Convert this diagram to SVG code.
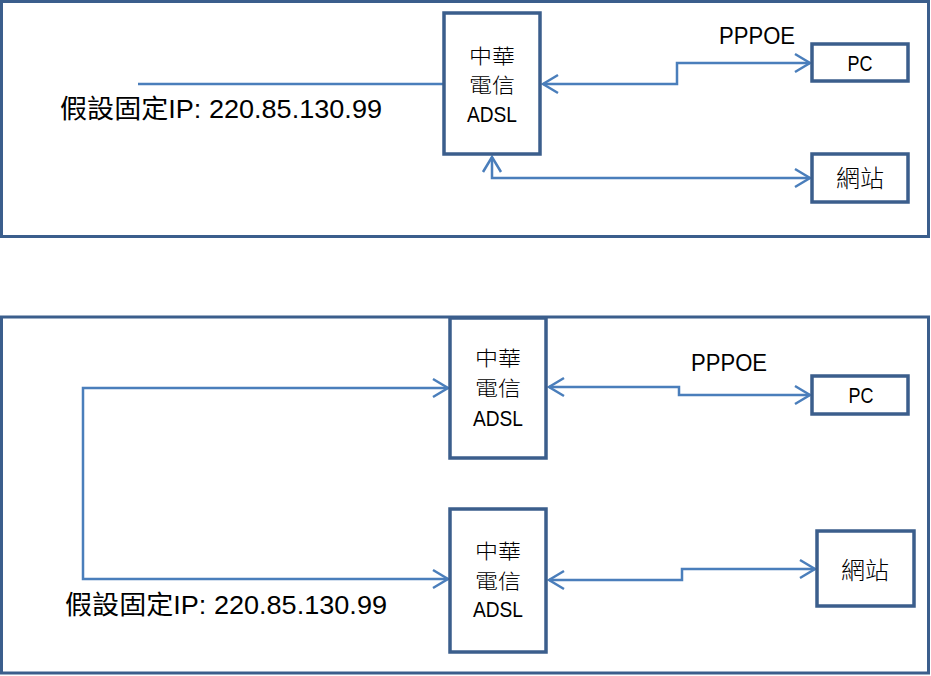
<svg xmlns="http://www.w3.org/2000/svg" width="931" height="676" viewBox="0 0 931 676">
<style>
.frame{fill:none;stroke:#3B5E8C;stroke-width:3}
.box{fill:#fff;stroke:#3B5E8C;stroke-width:3.5}
.conn{fill:none;stroke:#4A7EBB;stroke-width:2.5}
.t{font-family:"Liberation Sans","Noto Sans CJK TC",sans-serif;fill:#000}
.cjk{font-family:"Noto Sans CJK TC","Liberation Sans",sans-serif;fill:#000;font-weight:300}
.lat{font-family:"Liberation Sans","Noto Sans CJK TC",sans-serif;font-weight:400}
</style>
<defs>
<marker id="arr" viewBox="-17 -11 19 22" markerWidth="19" markerHeight="22" refX="0" refY="0" markerUnits="userSpaceOnUse" orient="auto-start-reverse">
<path d="M-15,-9 L0,0 L-15,9" fill="none" stroke="#4A7EBB" stroke-width="2.5"/>
</marker>
</defs>
<rect class="frame" x="1.5" y="1.5" width="927" height="235"/>
<rect class="frame" x="1.5" y="317" width="927" height="356"/>
<g id="connectors">
<line class="conn" x1="138" y1="84" x2="444" y2="84"/>
<path class="conn" d="M543,84 H677 V63 H810" marker-start="url(#arr)" marker-end="url(#arr)"/>
<path class="conn" d="M492,157 V178 H810" marker-start="url(#arr)" marker-end="url(#arr)"/>
<path class="conn" d="M448,388 H83 V579 H448" marker-start="url(#arr)" marker-end="url(#arr)"/>
<path class="conn" d="M549,387 H679 V395 H810" marker-start="url(#arr)" marker-end="url(#arr)"/>
<path class="conn" d="M549,580 H682 V569 H815" marker-start="url(#arr)" marker-end="url(#arr)"/>
</g>
<g id="adsl1">
<rect class="box" x="444" y="13" width="96" height="141"/>
<text class="cjk" font-size="20" text-anchor="middle"><tspan x="492" y="64" textLength="46" lengthAdjust="spacingAndGlyphs">中華</tspan><tspan x="492" y="93" textLength="46" lengthAdjust="spacingAndGlyphs">電信</tspan><tspan class="lat" x="492" y="122" font-size="22" textLength="50" lengthAdjust="spacingAndGlyphs">ADSL</tspan></text>
</g>
<g id="pc1">
<rect class="box" x="812" y="44" width="96" height="37"/>
<text class="t" x="860" y="71" font-size="22" text-anchor="middle" textLength="25" lengthAdjust="spacingAndGlyphs">PC</text>
</g>
<g id="web1">
<rect class="box" x="812" y="154" width="96" height="48"/>
<text class="cjk" x="860" y="187" font-size="24" text-anchor="middle">網站</text>
</g>
<g id="ip1">
<text class="t" x="60" y="118" font-size="26" textLength="322" lengthAdjust="spacingAndGlyphs">假設固定IP: 220.85.130.99</text>
</g>
<g id="pppoe1">
<text class="t" x="719" y="44" font-size="24" textLength="76" lengthAdjust="spacingAndGlyphs">PPPOE</text>
</g>
<g id="adsl2">
<rect class="box" x="450" y="318" width="96" height="140"/>
<text class="cjk" font-size="20" text-anchor="middle"><tspan x="498" y="366" textLength="46" lengthAdjust="spacingAndGlyphs">中華</tspan><tspan x="498" y="396" textLength="46" lengthAdjust="spacingAndGlyphs">電信</tspan><tspan class="lat" x="498" y="426" font-size="22" textLength="50" lengthAdjust="spacingAndGlyphs">ADSL</tspan></text>
</g>
<g id="adsl3">
<rect class="box" x="450" y="509" width="96" height="143"/>
<text class="cjk" font-size="20" text-anchor="middle"><tspan x="498" y="559" textLength="46" lengthAdjust="spacingAndGlyphs">中華</tspan><tspan x="498" y="589" textLength="46" lengthAdjust="spacingAndGlyphs">電信</tspan><tspan class="lat" x="498" y="617" font-size="22" textLength="50" lengthAdjust="spacingAndGlyphs">ADSL</tspan></text>
</g>
<g id="pc2">
<rect class="box" x="812" y="376" width="96" height="38"/>
<text class="t" x="861" y="403" font-size="22" text-anchor="middle" textLength="25" lengthAdjust="spacingAndGlyphs">PC</text>
</g>
<g id="web2">
<rect class="box" x="817" y="531" width="97" height="75"/>
<text class="cjk" x="865" y="579" font-size="24" text-anchor="middle">網站</text>
</g>
<g id="ip2">
<text class="t" x="65" y="614" font-size="26" textLength="322" lengthAdjust="spacingAndGlyphs">假設固定IP: 220.85.130.99</text>
</g>
<g id="pppoe2">
<text class="t" x="691" y="371" font-size="24" textLength="76" lengthAdjust="spacingAndGlyphs">PPPOE</text>
</g>
</svg>
